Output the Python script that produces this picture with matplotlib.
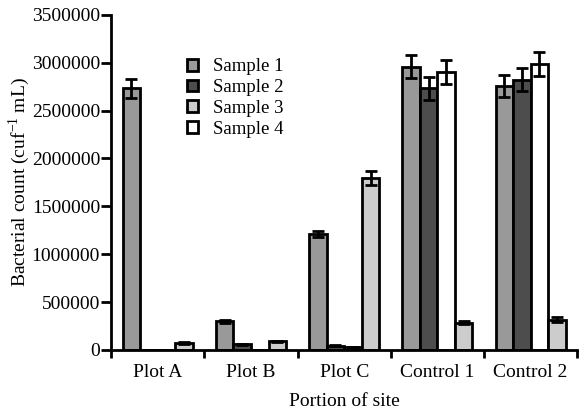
import numpy as np
import matplotlib
matplotlib.use('Agg')
import matplotlib.pyplot as plt

plt.rcParams['font.family'] = ['Liberation Serif', 'DejaVu Serif']
plt.rcParams['mathtext.fontset'] = 'custom'
plt.rcParams['mathtext.rm'] = 'Liberation Serif'

sites = ['Plot A', 'Plot B', 'Plot C', 'Control 1', 'Control 2']
sample1 = [2735000, 300000, 1210000, 2960000, 2755000]
sample1_err = [100000, 15000, 35000, 120000, 115000]
sample2 = [0, 60000, 45000, 2735000, 2825000]
sample2_err = [0, 5000, 5000, 120000, 120000]
sample4 = [0, 0, 30000, 2905000, 2990000]
sample4_err = [0, 0, 3000, 125000, 125000]
sample3 = [75000, 90000, 1795000, 285000, 315000]
sample3_err = [10000, 5000, 70000, 20000, 25000]

series = [('Sample 1', sample1, sample1_err, '#999999'),
          ('Sample 2', sample2, sample2_err, '#4d4d4d'),
          ('Sample 4', sample4, sample4_err, '#ffffff'),
          ('Sample 3', sample3, sample3_err, '#cccccc')]

fig = plt.figure(figsize=(5.79, 4.15), dpi=100)
ax = fig.add_axes([0.192, 0.157, 0.805, 0.807])

x = np.arange(len(sites)) + 0.5
w = 0.188
handles = {}
for i, (name, vals, errs, col) in enumerate(series):
    pos = x + (i - 1.5) * w
    b = ax.bar(pos, vals, w, color=col, edgecolor='black', linewidth=2, zorder=2)
    ax.errorbar(pos, vals, yerr=errs, fmt='none', ecolor='black', elinewidth=2,
                capsize=4, capthick=2, zorder=3)
    handles[name] = b

ax.set_xlim(0, 5)
ax.set_ylim(0, 3500000)
ax.set_yticks(np.arange(0, 3500001, 500000))
ax.set_yticklabels([str(v) for v in range(0, 3500001, 500000)])
ax.set_xticks(np.arange(0, 6))
ax.set_xticklabels([])
ax.set_xticks(x, minor=True)
ax.set_xticklabels(sites, minor=True)
ax.tick_params(axis='x', which='minor', length=0, pad=10, labelsize=14)
ax.tick_params(axis='x', which='major', length=6, width=2, direction='out')
ax.tick_params(axis='y', length=7, width=2, labelsize=14, pad=1)
for s in ['top', 'right']:
    ax.spines[s].set_visible(False)
for s in ['left', 'bottom']:
    ax.spines[s].set_linewidth(2)

ax.set_xlabel('Portion of site', fontsize=14, labelpad=9)
ax.set_ylabel('Bacterial count (cuf$^{-1}$ mL)', fontsize=14, labelpad=-0.5)

order = ['Sample 1', 'Sample 2', 'Sample 3', 'Sample 4']
ax.legend([handles[n] for n in order], order, loc='upper left',
          bbox_to_anchor=(0.293, 0.9), bbox_transform=fig.transFigure,
          frameon=False, fontsize=13.5, handlelength=0.6, handleheight=0.6,
          handletextpad=0.8, labelspacing=0.2)

fig.savefig('out.png', dpi=100)
